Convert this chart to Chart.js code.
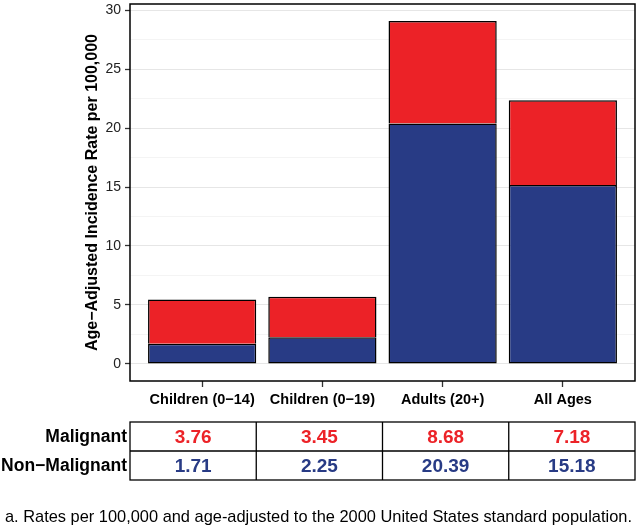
<!DOCTYPE html>
<html>
<head>
<meta charset="utf-8">
<script src="https://cdn.jsdelivr.net/npm/chart.js@4"></script>
<style>
  body { margin: 0; background: #fff; }
  canvas { display: block; }
</style>
</head>
<body>
<canvas id="chart" width="640" height="529"></canvas>
<script>
// data
const categories = ['Children (0−14)', 'Children (0−19)', 'Adults (20+)', 'All Ages'];
const malignant = [3.76, 3.45, 8.68, 7.18];
const nonMalignant = [1.71, 2.25, 20.39, 15.18];
const rowLabels = ['Malignant', 'Non−Malignant'];
const footnote = 'a. Rates per 100,000 and age-adjusted to the 2000 United States standard population.';

const RED = '#ec2227';
const BLUE = '#283b85';
const FONT = "'Liberation Sans', Arial, sans-serif";

const ctx = document.getElementById('chart').getContext('2d');

// plot frame, data table and footnote drawn under the chart
const tablePlugin = {
  id: 'table',
  afterDraw(chart) {
    const c = chart.ctx;
    const a = chart.chartArea;
    c.save();
    c.strokeStyle = '#000';
    c.lineWidth = 1.5;
    c.strokeRect(a.left, a.top, a.right - a.left, a.bottom - a.top);

    const top = 422, mid = 451, bot = 480;
    const colW = (a.right - a.left) / categories.length;
    c.lineWidth = 1.3;
    c.strokeRect(a.left, top, a.right - a.left, bot - top);
    c.beginPath();
    c.moveTo(a.left, mid);
    c.lineTo(a.right, mid);
    for (let i = 1; i < categories.length; i++) {
      const x = a.left + colW * i;
      c.moveTo(x, top);
      c.lineTo(x, bot);
    }
    c.stroke();

    const y1 = (top + mid) / 2 + 1, y2 = (mid + bot) / 2 + 1;
    c.textBaseline = 'middle';
    c.textAlign = 'right';
    c.fillStyle = '#000';
    c.font = 'bold 17.5px ' + FONT;
    c.fillText(rowLabels[0], 127, y1);
    c.fillText(rowLabels[1], 127, y2);

    c.textAlign = 'center';
    c.font = 'bold 19px ' + FONT;
    malignant.forEach((v, i) => {
      c.fillStyle = RED;
      c.fillText(v.toFixed(2), a.left + colW * (i + 0.5), y1);
    });
    nonMalignant.forEach((v, i) => {
      c.fillStyle = BLUE;
      c.fillText(v.toFixed(2), a.left + colW * (i + 0.5), y2);
    });

    c.textAlign = 'left';
    c.fillStyle = '#000';
    c.font = '16.4px ' + FONT;
    c.fillText(footnote, 5, 517);
    c.restore();
  }
};

const barStyle = {
  borderColor: '#000',
  borderWidth: 1.5,
  barPercentage: 0.9,
  categoryPercentage: 1,
  stack: 's'
};

new Chart(ctx, {
  type: 'bar',
  data: {
    datasets: [
      Object.assign({
        label: 'Non-Malignant',
        data: nonMalignant.map((v, i) => ({ x: i, y: v })),
        backgroundColor: BLUE,
        borderSkipped: false
      }, barStyle),
      Object.assign({
        label: 'Malignant',
        data: malignant.map((v, i) => ({ x: i, y: v })),
        backgroundColor: RED,
        borderSkipped: 'bottom'
      }, barStyle)
    ]
  },
  options: {
    responsive: false,
    animation: false,
    layout: { padding: { top: 4, right: 5, bottom: 118, left: 0 } },
    plugins: {
      legend: { display: false },
      tooltip: { enabled: false }
    },
    scales: {
      x: {
        type: 'linear',
        min: -0.6,
        max: 3.6,
        stacked: true,
        offset: false,
        afterFit(s) { s.height = 30; s.paddingLeft = 0; s.paddingRight = 0; },
        grid: { offset: false, drawOnChartArea: false, tickLength: 6, tickColor: '#333', tickWidth: 1.3 },
        border: { display: false },
        ticks: {
          stepSize: 1,
          includeBounds: false,
          autoSkip: false,
          maxRotation: 0,
          padding: 4,
          color: '#000',
          font: { family: FONT, size: 14.5, weight: 'bold' },
          callback: v => categories[v] ?? ''
        }
      },
      y: {
        stacked: true,
        min: -1.45,
        max: 30.52,
        afterFit(s) { s.width = 130; s.paddingTop = 0; s.paddingBottom = 0; },
        grid: {
          color: c => c.tick.value % 5 === 0 ? '#e6e6e6' : '#f4f4f4',
          tickColor: c => c.tick.value % 5 === 0 ? '#333' : 'rgba(0,0,0,0)',
          tickLength: 5,
          tickWidth: 1.3,
          lineWidth: 1
        },
        border: { display: false },
        ticks: {
          stepSize: 2.5,
          includeBounds: false,
          autoSkip: false,
          padding: 4,
          color: '#222',
          font: { family: FONT, size: 14 },
          callback: v => v % 5 === 0 ? v : ''
        },
        title: {
          display: true,
          text: 'Age−Adjusted Incidence Rate per 100,000',
          color: '#000',
          font: { family: FONT, size: 16, weight: 'bold' },
          padding: { top: 83, bottom: 0 }
        }
      }
    }
  },
  plugins: [tablePlugin]
});
</script>
</body>
</html>
